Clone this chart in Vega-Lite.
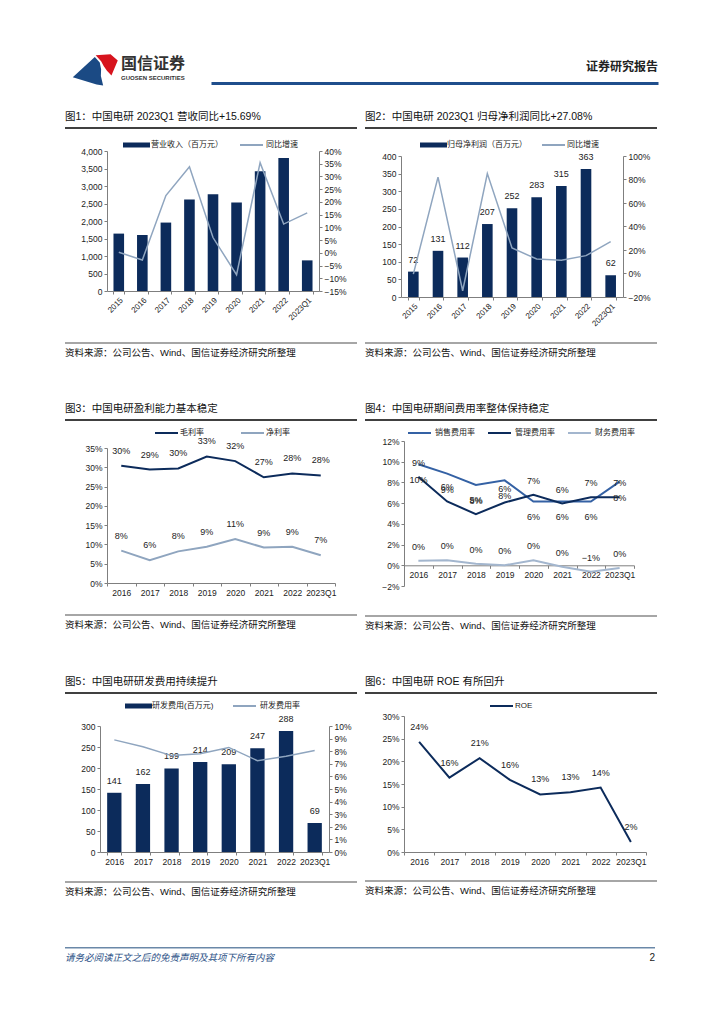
{
  "$schema": "https://vega.github.io/schema/vega-lite/v6.json",
  "background": "white",
  "padding": {"left": 65, "top": 53, "right": 5, "bottom": 5},
  "config": {
    "font": "'Liberation Sans', 'Noto Sans CJK SC', sans-serif",
    "view": {"stroke": null},
    "axis": {"labelFontSize": 8.5, "labelColor": "#222", "domainColor": "#7f7f7f", "tickColor": "#7f7f7f", "tickSize": 3, "labelPadding": 2, "grid": false},
    "title": {"fontWeight": "normal"},
    "legend": {"labelFontSize": 8, "labelColor": "#222", "padding": 0},
    "text": {"color": "#222"}
  },
  "spacing": 25,
  "resolve": {"scale": {"fill": "independent", "stroke": "independent"}},
  "vconcat": [
    {
      "spacing": 0,
      "resolve": {"scale": {"fill": "independent", "stroke": "independent"}},
      "hconcat": [
        {
          "width": 56, "height": 30,
          "data": {"values": [{}]},
          "layer": [
            {"mark": {"type": "point", "filled": true, "opacity": 1, "strokeWidth": 0, "size": 2025, "color": "#D7141E", "shape": "M0.12,-0.57L0.78,-0.61L1.1,-0.33L0.82,0.33L0.62,0.12L0.48,-0.08L0.36,-0.3Z"}, "encoding": {}},
            {"mark": {"type": "point", "filled": true, "opacity": 1, "strokeWidth": 0, "size": 2025, "color": "#1B4A84", "shape": "M0.08,-0.49L0.3,-0.25L0.36,0.05L0.35,0.35L0.45,0.78L0.16,0.73L-0.9,0.41Z"}, "encoding": {}}
          ]
        },
        {
          "width": 87, "height": 1,
          "data": {"values": [{}]},
          "mark": {"type": "bar", "opacity": 0},
          "title": {"text": "国信证券", "subtitle": "GUOSEN SECURITIES", "orient": "bottom", "anchor": "start", "fontSize": 16, "fontWeight": "bold", "color": "#333", "subtitleFontSize": 6, "subtitleFontWeight": "bold", "subtitleColor": "#333", "subtitlePadding": 3, "offset": 2}
        },
        {
          "width": 447, "height": 30,
          "data": {"values": [{"v": 0}]},
          "mark": {"type": "point", "opacity": 0},
          "encoding": {"x": {"field": "v", "type": "quantitative", "scale": {"domain": [0, 1]}, "axis": {"title": null, "labels": false, "ticks": false, "grid": false, "domainColor": "#1F4E8C", "domainWidth": 3}}},
          "title": {"text": "证券研究报告", "orient": "top", "anchor": "end", "fontSize": 12, "fontWeight": "bold", "color": "#222", "offset": -21}
        }
      ]
    },
    {
      "spacing": 50,
      "resolve": {"scale": {"fill": "independent", "stroke": "independent"}},
      "vconcat": [
        {
          "spacing": 45,
          "resolve": {"scale": {"fill": "independent", "stroke": "independent"}},
          "vconcat": [
            {
              "spacing": 8,
              "resolve": {"scale": {"fill": "independent", "stroke": "independent"}},
              "hconcat": [
                {
                  "spacing": 10,
                  "resolve": {"scale": {"fill": "independent", "stroke": "independent"}},
                  "vconcat": [
                    {"width": 292, "height": 2, "data": {"values": [{}]}, "mark": {"type": "bar", "color": "#404040"},
                     "title": {"text": "图1：中国电研 2023Q1 营收同比+15.69%", "anchor": "start", "fontSize": 10.5, "color": "#111", "offset": 5}},
                    {
                      "width": 292, "height": 140,
                      "data": {"values": [
                        {"year": "2015", "rev": 1640, "yoy": 0.002},
                        {"year": "2016", "rev": 1600, "yoy": -0.028},
                        {"year": "2017", "rev": 1955, "yoy": 0.225},
                        {"year": "2018", "rev": 2615, "yoy": 0.338},
                        {"year": "2019", "rev": 2765, "yoy": 0.06},
                        {"year": "2020", "rev": 2530, "yoy": -0.086},
                        {"year": "2021", "rev": 3425, "yoy": 0.354},
                        {"year": "2022", "rev": 3800, "yoy": 0.113},
                        {"year": "2023Q1", "rev": 875, "yoy": 0.1569}
                      ]},
                      "encoding": {"x": {"field": "year", "type": "ordinal", "sort": null, "scale": {"type": "band", "range": [42, 254], "paddingInner": 0.55, "paddingOuter": 0.275}, "axis": {"title": null, "labelAngle": -45, "tickBand": "extent", "minExtent": 41, "labelFontSize": 8}}},
                      "layer": [
                        {"mark": {"type": "bar"}, "encoding": {
                          "y": {"field": "rev", "type": "quantitative", "scale": {"domain": [0, 4000]}, "axis": {"title": null, "offset": -42, "values": [0, 500, 1000, 1500, 2000, 2500, 3000, 3500, 4000], "format": ",.0f"}},
                          "fill": {"datum": "营业收入（百万元）", "type": "nominal", "scale": {"range": ["#0C2B5B"]}, "legend": {"title": null, "orient": "none", "legendX": 66.5, "legendY": -11, "labelOffset": 9.5, "symbolType": "M-2.7,-0.5H2.7V0.5H-2.7Z", "symbolSize": 100, "symbolStrokeWidth": 0}}
                        }},
                        {"mark": {"type": "line", "strokeWidth": 1.5}, "encoding": {
                          "y": {"field": "yoy", "type": "quantitative", "scale": {"domain": [-0.15, 0.4]}, "axis": {"title": null, "orient": "right", "offset": -38, "format": ".0%", "values": [-0.15, -0.1, -0.05, 0, 0.05, 0.1, 0.15, 0.2, 0.25, 0.3, 0.35, 0.4]}},
                          "stroke": {"datum": "同比增速", "type": "nominal", "scale": {"range": ["#8FA5BF"]}, "legend": {"title": null, "orient": "none", "legendX": 180.5, "legendY": -12, "labelOffset": 8.5, "symbolType": "M-2.3,0L2.3,0", "symbolSize": 100, "symbolStrokeWidth": 2}}
                        }}
                      ],
                      "resolve": {"scale": {"y": "independent"}}
                    },
                    {"width": 292, "height": 2, "data": {"values": [{}]}, "mark": {"type": "bar", "color": "#a6a6a6"},
                     "title": {"text": "资料来源：公司公告、Wind、国信证券经济研究所整理", "orient": "bottom", "anchor": "start", "fontSize": 9.5, "color": "#111", "offset": 4}}
                  ]
                },
                {
                  "spacing": 10,
                  "resolve": {"scale": {"fill": "independent", "stroke": "independent"}},
                  "vconcat": [
                    {"width": 292, "height": 2, "data": {"values": [{}]}, "mark": {"type": "bar", "color": "#404040"},
                     "title": {"text": "图2：中国电研 2023Q1 归母净利润同比+27.08%", "anchor": "start", "fontSize": 10.5, "color": "#111", "offset": 5}},
                    {
                      "width": 292, "height": 141,
                      "data": {"values": [
                        {"year": "2015", "np": 72, "yoy": -0.005},
                        {"year": "2016", "np": 131, "yoy": 0.82},
                        {"year": "2017", "np": 112, "yoy": -0.147},
                        {"year": "2018", "np": 207, "yoy": 0.85},
                        {"year": "2019", "np": 252, "yoy": 0.217},
                        {"year": "2020", "np": 283, "yoy": 0.123},
                        {"year": "2021", "np": 315, "yoy": 0.113},
                        {"year": "2022", "np": 363, "yoy": 0.152},
                        {"year": "2023Q1", "np": 62, "yoy": 0.2708}
                      ]},
                      "encoding": {"x": {"field": "year", "type": "ordinal", "sort": null, "scale": {"type": "band", "range": [36, 258], "paddingInner": 0.57, "paddingOuter": 0.285}, "axis": {"title": null, "labelAngle": -45, "tickBand": "extent", "minExtent": 35, "labelFontSize": 8}}},
                      "layer": [
                        {
                          "encoding": {"y": {"field": "np", "type": "quantitative", "scale": {"domain": [0, 400]}, "axis": {"title": null, "offset": -36, "values": [0, 50, 100, 150, 200, 250, 300, 350, 400]}}},
                          "layer": [
                            {"mark": {"type": "bar"}, "encoding": {
                              "fill": {"datum": "归母净利润（百万元）", "type": "nominal", "scale": {"range": ["#0C2B5B"]}, "legend": {"title": null, "orient": "none", "legendX": 63.5, "legendY": -16, "labelOffset": 8.5, "symbolType": "M-2.7,-0.5H2.7V0.5H-2.7Z", "symbolSize": 100, "symbolStrokeWidth": 0}}
                            }},
                            {"mark": {"type": "text", "dy": -12, "fontSize": 9}, "encoding": {"text": {"field": "np", "type": "quantitative"}}}
                          ]
                        },
                        {"mark": {"type": "line", "strokeWidth": 1.5}, "encoding": {
                          "y": {"field": "yoy", "type": "quantitative", "scale": {"domain": [-0.2, 1.0]}, "axis": {"title": null, "orient": "right", "offset": -34, "format": ".0%", "values": [-0.2, 0, 0.2, 0.4, 0.6, 0.8, 1.0]}},
                          "stroke": {"datum": "同比增速", "type": "nominal", "scale": {"range": ["#8FA5BF"]}, "legend": {"title": null, "orient": "none", "legendX": 182.5, "legendY": -17, "labelOffset": 7.5, "symbolType": "M-2.3,0L2.3,0", "symbolSize": 100, "symbolStrokeWidth": 2}}
                        }}
                      ],
                      "resolve": {"scale": {"y": "independent"}}
                    },
                    {"width": 292, "height": 2, "data": {"values": [{}]}, "mark": {"type": "bar", "color": "#a6a6a6"},
                     "title": {"text": "资料来源：公司公告、Wind、国信证券经济研究所整理", "orient": "bottom", "anchor": "start", "fontSize": 9.5, "color": "#111", "offset": 4}}
                  ]
                }
              ]
            },
            {
              "spacing": 8,
              "resolve": {"scale": {"fill": "independent", "stroke": "independent"}},
              "hconcat": [
                {
                  "spacing": 6,
                  "resolve": {"scale": {"fill": "independent", "stroke": "independent"}},
                  "vconcat": [
                    {"width": 292, "height": 2, "data": {"values": [{}]}, "mark": {"type": "bar", "color": "#404040"},
                     "title": {"text": "图3：中国电研盈利能力基本稳定", "anchor": "start", "fontSize": 10.5, "color": "#111", "offset": 5}},
                    {
                      "width": 292, "height": 135,
                      "data": {"values": [
                        {"year": "2016", "s": "毛利率", "v": 0.304},
                        {"year": "2017", "s": "毛利率", "v": 0.294},
                        {"year": "2018", "s": "毛利率", "v": 0.297},
                        {"year": "2019", "s": "毛利率", "v": 0.328},
                        {"year": "2020", "s": "毛利率", "v": 0.316},
                        {"year": "2021", "s": "毛利率", "v": 0.274},
                        {"year": "2022", "s": "毛利率", "v": 0.284},
                        {"year": "2023Q1", "s": "毛利率", "v": 0.279},
                        {"year": "2016", "s": "净利率", "v": 0.084},
                        {"year": "2017", "s": "净利率", "v": 0.059},
                        {"year": "2018", "s": "净利率", "v": 0.082},
                        {"year": "2019", "s": "净利率", "v": 0.094},
                        {"year": "2020", "s": "净利率", "v": 0.114},
                        {"year": "2021", "s": "净利率", "v": 0.092},
                        {"year": "2022", "s": "净利率", "v": 0.094},
                        {"year": "2023Q1", "s": "净利率", "v": 0.072}
                      ]},
                      "encoding": {
                        "x": {"field": "year", "type": "ordinal", "sort": null, "scale": {"type": "band", "range": [42, 270], "paddingInner": 0, "paddingOuter": 0}, "axis": {"title": null, "labelAngle": 0, "tickBand": "extent", "minExtent": 25}},
                        "y": {"field": "v", "type": "quantitative", "scale": {"domain": [0, 0.35]}, "axis": {"title": null, "offset": -42, "format": ".0%", "values": [0, 0.05, 0.1, 0.15, 0.2, 0.25, 0.3, 0.35]}}
                      },
                      "layer": [
                        {"mark": {"type": "line", "strokeWidth": 2}, "encoding": {
                          "stroke": {"field": "s", "type": "nominal", "scale": {"domain": ["毛利率", "净利率"], "range": ["#0C2B5B", "#8FA5BF"]}, "legend": {"title": null, "orient": "none", "direction": "horizontal", "legendX": 95.5, "legendY": -21, "labelOffset": 7.5, "columnPadding": 32, "symbolType": "M-2.3,0L2.3,0", "symbolSize": 100, "symbolStrokeWidth": 2}}
                        }},
                        {"mark": {"type": "text", "dy": -15, "fontSize": 9}, "encoding": {"text": {"field": "v", "type": "quantitative", "format": ".0%"}}}
                      ]
                    },
                    {"width": 292, "height": 2, "data": {"values": [{}]}, "mark": {"type": "bar", "color": "#a6a6a6"},
                     "title": {"text": "资料来源：公司公告、Wind、国信证券经济研究所整理", "orient": "bottom", "anchor": "start", "fontSize": 9.5, "color": "#111", "offset": 4}}
                  ]
                },
                {
                  "spacing": 6,
                  "resolve": {"scale": {"fill": "independent", "stroke": "independent"}},
                  "vconcat": [
                    {"width": 292, "height": 2, "data": {"values": [{}]}, "mark": {"type": "bar", "color": "#404040"},
                     "title": {"text": "图4：中国电研期间费用率整体保持稳定", "anchor": "start", "fontSize": 10.5, "color": "#111", "offset": 5}},
                    {
                      "width": 292, "height": 145,
                      "data": {"values": [
                        {"year": "2016", "s": "销售费用率", "v": 0.0975},
                        {"year": "2017", "s": "销售费用率", "v": 0.0885},
                        {"year": "2018", "s": "销售费用率", "v": 0.0776},
                        {"year": "2019", "s": "销售费用率", "v": 0.082},
                        {"year": "2020", "s": "销售费用率", "v": 0.0616},
                        {"year": "2021", "s": "销售费用率", "v": 0.0616},
                        {"year": "2022", "s": "销售费用率", "v": 0.0616},
                        {"year": "2023Q1", "s": "销售费用率", "v": 0.0808},
                        {"year": "2016", "s": "管理费用率", "v": 0.0855},
                        {"year": "2017", "s": "管理费用率", "v": 0.0616},
                        {"year": "2018", "s": "管理费用率", "v": 0.0494},
                        {"year": "2019", "s": "管理费用率", "v": 0.0606},
                        {"year": "2020", "s": "管理费用率", "v": 0.068},
                        {"year": "2021", "s": "管理费用率", "v": 0.0596},
                        {"year": "2022", "s": "管理费用率", "v": 0.0657},
                        {"year": "2023Q1", "s": "管理费用率", "v": 0.0657},
                        {"year": "2016", "s": "财务费用率", "v": 0.0044},
                        {"year": "2017", "s": "财务费用率", "v": 0.0048},
                        {"year": "2018", "s": "财务费用率", "v": 0.0015},
                        {"year": "2019", "s": "财务费用率", "v": 0.0},
                        {"year": "2020", "s": "财务费用率", "v": 0.0049},
                        {"year": "2021", "s": "财务费用率", "v": -0.0014},
                        {"year": "2022", "s": "财务费用率", "v": -0.0062},
                        {"year": "2023Q1", "s": "财务费用率", "v": -0.0027}
                      ]},
                      "encoding": {
                        "x": {"field": "year", "type": "ordinal", "sort": null, "scale": {"type": "band", "range": [39, 269], "paddingInner": 0, "paddingOuter": 0}, "axis": {"title": null, "labelAngle": 0, "tickBand": "extent", "offset": -20.7, "minExtent": 43}},
                        "y": {"field": "v", "type": "quantitative", "scale": {"domain": [-0.02, 0.12]}, "axis": {"title": null, "offset": -39, "format": ".0%", "values": [-0.02, 0, 0.02, 0.04, 0.06, 0.08, 0.1, 0.12]}}
                      },
                      "layer": [
                        {"mark": {"type": "line", "strokeWidth": 2}, "encoding": {
                          "stroke": {"field": "s", "type": "nominal", "scale": {"domain": ["销售费用率", "管理费用率", "财务费用率"], "range": ["#3461A4", "#0C2B5B", "#A3B6CE"]}, "legend": {"title": null, "orient": "none", "direction": "horizontal", "legendX": 48.5, "legendY": -14, "labelOffset": 9.5, "columnPadding": 8, "symbolType": "M-2.3,0L2.3,0", "symbolSize": 100, "symbolStrokeWidth": 2}}
                        }},
                        {"transform": [{"filter": "datum.s === '销售费用率'"}], "mark": {"type": "text", "dy": 16, "fontSize": 9}, "encoding": {"text": {"field": "v", "type": "quantitative", "format": ".0%"}}},
                        {"transform": [{"filter": "datum.s === '管理费用率'"}], "mark": {"type": "text", "dy": -14, "fontSize": 9}, "encoding": {"text": {"field": "v", "type": "quantitative", "format": ".0%"}}},
                        {"transform": [{"filter": "datum.s === '财务费用率'"}], "mark": {"type": "text", "dy": -14, "fontSize": 9}, "encoding": {"text": {"field": "v", "type": "quantitative", "format": ".0%"}}}
                      ]
                    },
                    {"width": 292, "height": 2, "data": {"values": [{}]}, "mark": {"type": "bar", "color": "#a6a6a6"},
                     "title": {"text": "资料来源：公司公告、Wind、国信证券经济研究所整理", "orient": "bottom", "anchor": "start", "fontSize": 9.5, "color": "#111", "offset": 4}}
                  ]
                }
              ]
            },
            {
              "spacing": 8,
              "resolve": {"scale": {"fill": "independent", "stroke": "independent"}},
              "hconcat": [
                {
                  "spacing": 6,
                  "resolve": {"scale": {"fill": "independent", "stroke": "independent"}},
                  "vconcat": [
                    {"width": 292, "height": 2, "data": {"values": [{}]}, "mark": {"type": "bar", "color": "#404040"},
                     "title": {"text": "图5：中国电研研发费用持续提升", "anchor": "start", "fontSize": 10.5, "color": "#111", "offset": 5}},
                    {
                      "width": 292, "height": 126,
                      "data": {"values": [
                        {"year": "2016", "rd": 141, "rate": 0.089},
                        {"year": "2017", "rd": 162, "rate": 0.0835},
                        {"year": "2018", "rd": 199, "rate": 0.0765},
                        {"year": "2019", "rd": 214, "rate": 0.078},
                        {"year": "2020", "rd": 209, "rate": 0.083},
                        {"year": "2021", "rd": 247, "rate": 0.0725},
                        {"year": "2022", "rd": 288, "rate": 0.076},
                        {"year": "2023Q1", "rd": 69, "rate": 0.0805}
                      ]},
                      "encoding": {"x": {"field": "year", "type": "ordinal", "sort": null, "scale": {"type": "band", "range": [35, 264], "paddingInner": 0.5, "paddingOuter": 0.25}, "axis": {"title": null, "labelAngle": 0, "tickBand": "extent", "minExtent": 23}}},
                      "layer": [
                        {
                          "encoding": {"y": {"field": "rd", "type": "quantitative", "scale": {"domain": [0, 300]}, "axis": {"title": null, "offset": -35, "values": [0, 50, 100, 150, 200, 250, 300]}}},
                          "layer": [
                            {"mark": {"type": "bar"}, "encoding": {
                              "fill": {"datum": "研发费用(百万元)", "type": "nominal", "scale": {"range": ["#0C2B5B"]}, "legend": {"title": null, "orient": "none", "legendX": 68.5, "legendY": -25, "labelOffset": 8.5, "symbolType": "M-2.7,-0.5H2.7V0.5H-2.7Z", "symbolSize": 100, "symbolStrokeWidth": 0}}
                            }},
                            {"mark": {"type": "text", "dy": -12, "fontSize": 9}, "encoding": {"text": {"field": "rd", "type": "quantitative"}}}
                          ]
                        },
                        {"mark": {"type": "line", "strokeWidth": 1.5}, "encoding": {
                          "y": {"field": "rate", "type": "quantitative", "scale": {"domain": [0, 0.1]}, "axis": {"title": null, "orient": "right", "offset": -28, "format": ".0%", "values": [0, 0.01, 0.02, 0.03, 0.04, 0.05, 0.06, 0.07, 0.08, 0.09, 0.1]}},
                          "stroke": {"datum": "研发费用率", "type": "nominal", "scale": {"range": ["#8FA5BF"]}, "legend": {"title": null, "orient": "none", "legendX": 173.5, "legendY": -26, "labelOffset": 9.5, "symbolType": "M-2.3,0L2.3,0", "symbolSize": 100, "symbolStrokeWidth": 2}}
                        }}
                      ],
                      "resolve": {"scale": {"y": "independent"}}
                    },
                    {"width": 292, "height": 2, "data": {"values": [{}]}, "mark": {"type": "bar", "color": "#a6a6a6"},
                     "title": {"text": "资料来源：公司公告、Wind、国信证券经济研究所整理", "orient": "bottom", "anchor": "start", "fontSize": 9.5, "color": "#111", "offset": 4}}
                  ]
                },
                {
                  "spacing": 6,
                  "resolve": {"scale": {"fill": "independent", "stroke": "independent"}},
                  "vconcat": [
                    {"width": 292, "height": 2, "data": {"values": [{}]}, "mark": {"type": "bar", "color": "#404040"},
                     "title": {"text": "图6：中国电研 ROE 有所回升", "anchor": "start", "fontSize": 10.5, "color": "#111", "offset": 5}},
                    {
                      "width": 292, "height": 136,
                      "data": {"values": [
                        {"year": "2016", "s": "ROE", "v": 0.243},
                        {"year": "2017", "s": "ROE", "v": 0.164},
                        {"year": "2018", "s": "ROE", "v": 0.207},
                        {"year": "2019", "s": "ROE", "v": 0.159},
                        {"year": "2020", "s": "ROE", "v": 0.127},
                        {"year": "2021", "s": "ROE", "v": 0.132},
                        {"year": "2022", "s": "ROE", "v": 0.142},
                        {"year": "2023Q1", "s": "ROE", "v": 0.022}
                      ]},
                      "encoding": {
                        "x": {"field": "year", "type": "ordinal", "sort": null, "scale": {"type": "band", "range": [39, 281], "paddingInner": 0, "paddingOuter": 0}, "axis": {"title": null, "labelAngle": 0, "tickBand": "extent", "minExtent": 22}},
                        "y": {"field": "v", "type": "quantitative", "scale": {"domain": [0, 0.3]}, "axis": {"title": null, "offset": -39, "format": ".0%", "values": [0, 0.05, 0.1, 0.15, 0.2, 0.25, 0.3]}}
                      },
                      "layer": [
                        {"mark": {"type": "line", "strokeWidth": 2}, "encoding": {
                          "stroke": {"field": "s", "type": "nominal", "scale": {"domain": ["ROE"], "range": ["#0C2B5B"]}, "legend": {"title": null, "orient": "none", "legendX": 130.5, "legendY": -16, "labelOffset": 7.5, "symbolType": "M-2.3,0L2.3,0", "symbolSize": 100, "symbolStrokeWidth": 2}}
                        }},
                        {"mark": {"type": "text", "dy": -15, "fontSize": 9}, "encoding": {"text": {"field": "v", "type": "quantitative", "format": ".0%"}}}
                      ]
                    },
                    {"width": 292, "height": 2, "data": {"values": [{}]}, "mark": {"type": "bar", "color": "#a6a6a6"},
                     "title": {"text": "资料来源：公司公告、Wind、国信证券经济研究所整理", "orient": "bottom", "anchor": "start", "fontSize": 9.5, "color": "#111", "offset": 4}}
                  ]
                }
              ]
            }
          ]
        },
        {
          "spacing": 0,
          "hconcat": [
            {"width": 560, "height": 1.5, "data": {"values": [{}]}, "mark": {"type": "bar", "color": "#6A88A8"},
             "title": {"text": "请务必阅读正文之后的免责声明及其项下所有内容", "orient": "bottom", "anchor": "start", "fontSize": 9.5, "fontStyle": "italic", "color": "#2D5287", "offset": 4}},
            {"width": 30, "height": 1.5, "data": {"values": [{}]}, "mark": {"type": "bar", "color": "#6A88A8"},
             "title": {"text": "2", "orient": "bottom", "anchor": "end", "fontSize": 10, "color": "#222", "offset": 4}}
          ]
        }
      ]
    }
  ]
}
